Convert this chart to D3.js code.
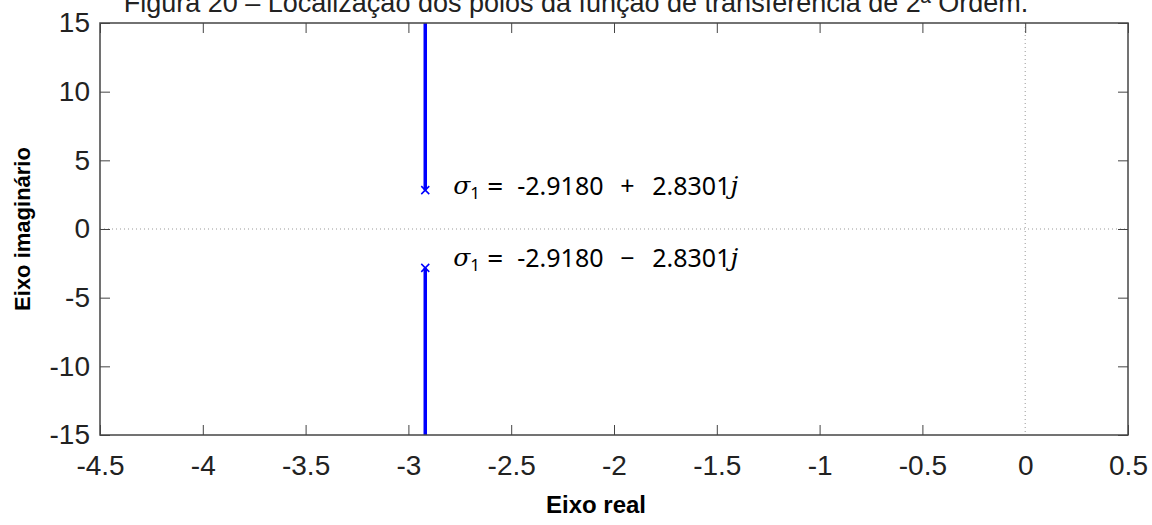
<!DOCTYPE html>
<html>
<head>
<meta charset="utf-8">
<script src="https://cdn.jsdelivr.net/npm/d3@7"></script>
<style>
  body { margin: 0; background: #fff; }
  text { font-family: "Liberation Sans", Arial, sans-serif; }
</style>
</head>
<body>
<div id="chart"></div>
<script>
// pole locations (real, imaginary)
const poleReal = [-2.9180, -2.9180];
const poleImag = [2.8301, -2.8301];
const realText = ["-2.9180", "-2.9180"];
const signText = ["+", "\u2212"];
const imagText = ["2.8301", "2.8301"];
// locus branches go from each pole out to the edge of the window
const branchEnd = [15, -15];

const xTicks = [-4.5, -4, -3.5, -3, -2.5, -2, -1.5, -1, -0.5, 0, 0.5];
const yTicks = [-15, -10, -5, 0, 5, 10, 15];

const W = 1152, H = 525;
const margin = ({top: 23, right: 24, bottom: 90, left: 100});
const width = W - margin.left - margin.right;
const height = H - margin.top - margin.bottom;

const root = d3.select('#chart').append('svg')
    .attr('width', W)
    .attr('height', H);

const svg = root.append('g')
    .attr('transform', 'translate(' + margin.left + ',' + margin.top + ')');

const xScale = d3.scaleLinear().domain([-4.5, 0.5]).range([0, width]);
const yScale = d3.scaleLinear().domain([-15, 15]).range([height, 0]);

// title (cut at the top of the figure, as in the source)
root.append('text')
    .attr('x', W / 2)
    .attr('y', 12)
    .attr('text-anchor', 'middle')
    .style('font-size', '27px')
    .attr('fill', '#222')
    .text('Figura 20 \u2013 Localiza\u00e7\u00e3o dos polos da fun\u00e7\u00e3o de transfer\u00eancia de 2\u00aa Ordem.');

// dotted zero lines
svg.append('line')
    .attr('x1', 0).attr('x2', width)
    .attr('y1', yScale(0)).attr('y2', yScale(0))
    .attr('stroke', '#999').attr('stroke-width', 1)
    .attr('stroke-dasharray', '1,3');
svg.append('line')
    .attr('x1', xScale(0)).attr('x2', xScale(0))
    .attr('y1', 0).attr('y2', height)
    .attr('stroke', '#999').attr('stroke-width', 1)
    .attr('stroke-dasharray', '1,3');

// locus branches
svg.selectAll('.branch')
    .data(poleReal)
    .enter()
    .append('line')
    .attr('class', 'branch')
    .attr('x1', (d) => xScale(d))
    .attr('x2', (d) => xScale(d))
    .attr('y1', (d, i) => yScale(poleImag[i]))
    .attr('y2', (d, i) => yScale(branchEnd[i]))
    .attr('stroke', '#0000ff')
    .attr('stroke-width', 3.5);

// pole markers
const s = 4;
svg.selectAll('.pole')
    .data(poleReal)
    .enter()
    .append('path')
    .attr('class', 'pole')
    .attr('transform', (d, i) => 'translate(' + xScale(d) + ',' + yScale(poleImag[i]) + ')')
    .attr('d', 'M' + -s + ',' + -s + 'L' + s + ',' + s + 'M' + -s + ',' + s + 'L' + s + ',' + -s)
    .attr('stroke', '#0000ff')
    .attr('stroke-width', 1.5);

// pole annotations
const labels = svg.selectAll('.poleLabel')
    .data(poleReal)
    .enter()
    .append('text')
    .attr('class', 'poleLabel')
    .attr('y', (d, i) => yScale(poleImag[i]) + (i === 0 ? -5 : -11))
    .attr('dominant-baseline', 'central')
    .style('font-size', '25px')
    .style('font-family', '"Noto Sans", sans-serif')
    .attr('fill', '#000');

const px = (d) => xScale(d);
labels.append('tspan')
    .attr('x', (d) => px(d) + 28)
    .style('font-family', '"DejaVu Serif", serif')
    .style('font-style', 'italic')
    .text('\u03c3');
labels.append('tspan')
    .attr('dy', 7)
    .style('font-size', '17px')
    .text('1');
labels.append('tspan')
    .attr('x', (d) => px(d) + 62)
    .attr('dy', -7)
    .style('font-size', '28px')
    .text('=');
labels.append('tspan')
    .attr('x', (d) => px(d) + 92)
    .text((d, i) => realText[i]);
labels.append('tspan')
    .attr('x', (d) => px(d) + 195)
    .text((d, i) => signText[i]);
labels.append('tspan')
    .attr('x', (d) => px(d) + 227)
    .text((d, i) => imagText[i]);
labels.append('tspan')
    .style('font-family', '"DejaVu Serif", serif')
    .style('font-style', 'italic')
    .text('j');

// box
svg.append('rect')
    .attr('width', width)
    .attr('height', height)
    .attr('fill', 'none')
    .attr('stroke', '#444')
    .attr('stroke-width', 1.5);

// axes with inward ticks
const tickLen = 10;
const fmt = (d) => String(d);
const xAxis = d3.axisBottom(xScale).tickValues(xTicks).tickSize(-tickLen).tickPadding(26)
    .tickFormat(fmt);
const yAxis = d3.axisLeft(yScale).tickValues(yTicks).tickSize(-tickLen).tickPadding(10)
    .tickFormat(fmt);

svg.append('g')
    .attr('class', 'axis x-axis')
    .attr('transform', 'translate(0,' + height + ')')
    .call(xAxis);
svg.append('g')
    .attr('class', 'axis y-axis')
    .call(yAxis);
svg.append('g')
    .attr('class', 'axis')
    .call(d3.axisTop(xScale).tickValues(xTicks).tickSize(-tickLen).tickFormat(''));
svg.append('g')
    .attr('class', 'axis')
    .attr('transform', 'translate(' + width + ',0)')
    .call(d3.axisRight(yScale).tickValues(yTicks).tickSize(-tickLen).tickFormat(''));

svg.selectAll('.axis .domain').remove();
svg.selectAll('.axis line').attr('stroke', '#444').attr('stroke-width', 1);
svg.selectAll('.axis text')
    .style('font-size', '28px')
    .style('font-family', '"Liberation Sans", Arial, sans-serif')
    .attr('fill', '#222');
svg.selectAll('.x-axis text').attr('dy', '0.5em');
// no tick mark at 0 where the dotted line already sits
svg.selectAll('.x-axis .tick line').filter((d) => d === 0).remove();

// axis titles
root.append('text')
    .attr('x', 596)
    .attr('y', 513)
    .attr('text-anchor', 'middle')
    .style('font-size', '24px')
    .style('font-weight', 'bold')
    .text('Eixo real');

root.append('text')
    .attr('transform', 'translate(30,' + (margin.top + yScale(0)) + ') rotate(-90)')
    .attr('text-anchor', 'middle')
    .style('font-size', '22px')
    .style('font-weight', 'bold')
    .text('Eixo imagin\u00e1rio');
</script>
</body>
</html>
